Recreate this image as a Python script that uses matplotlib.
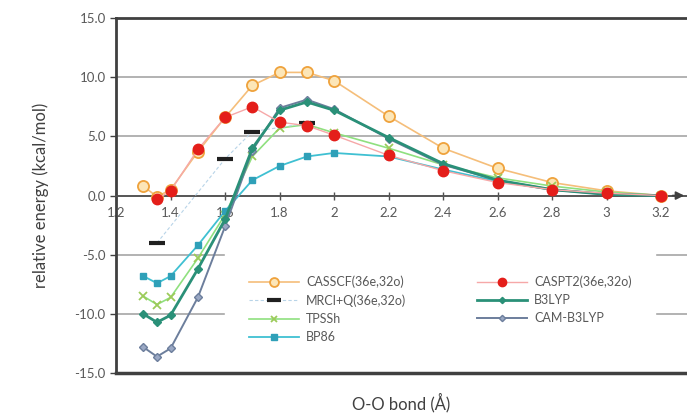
import numpy as np
import matplotlib.pyplot as plt

plt.rcParams['font.family'] = ['Lato', 'DejaVu Sans']

# O-O bond length (Å)
x = [1.3, 1.35, 1.4, 1.5, 1.6, 1.7, 1.8, 1.9, 2.0, 2.2, 2.4, 2.6, 2.8, 3.0, 3.2]
x_pt2 = [1.35, 1.4, 1.5, 1.6, 1.7, 1.8, 1.9, 2.0, 2.2, 2.4, 2.6, 2.8, 3.0, 3.2]
x_mrci = [1.35, 1.6, 1.7, 1.9]

# relative energies (kcal/mol)
casscf = [0.8, -0.1, 0.5, 3.7, 6.6, 9.3, 10.4, 10.4, 9.7, 6.7, 4.0, 2.3, 1.1, 0.4, 0.0]
caspt2 = [-0.3, 0.4, 3.9, 6.6, 7.5, 6.2, 5.9, 5.1, 3.4, 2.1, 1.1, 0.5, 0.2, 0.0]
mrci = [-4.0, 3.1, 5.4, 6.1]
b3lyp = [-10.0, -10.7, -10.1, -6.2, -2.0, 4.0, 7.2, 7.9, 7.2, 4.9, 2.7, 1.3, 0.5, 0.1, 0.0]
tpssh = [-8.5, -9.2, -8.6, -5.3, -1.6, 3.3, 5.7, 6.0, 5.3, 4.0, 2.6, 1.5, 0.8, 0.3, 0.0]
cam = [-12.8, -13.6, -12.9, -8.6, -2.6, 3.8, 7.4, 8.1, 7.3, 4.8, 2.6, 1.3, 0.5, 0.1, 0.0]
bp86 = [-6.8, -7.4, -6.8, -4.2, -1.3, 1.3, 2.5, 3.3, 3.6, 3.3, 2.2, 1.2, 0.5, 0.15, 0.0]

xticks = [1.2, 1.4, 1.6, 1.8, 2.0, 2.2, 2.4, 2.6, 2.8, 3.0, 3.2]
yticks = [-15, -10, -5, 0, 5, 10, 15]

fig = plt.figure(figsize=(6.87, 4.17), dpi=100)
ax = fig.add_axes([0.169, 0.105, 0.831, 0.852])

grey = '#595959'
ax.plot(x, casscf, color='#F5BE7A', lw=1.2, marker='o', ms=8, mfc='#FCE6B8',
        mec='#EFA23C', mew=1.3, label='CASSCF(36e,32o)', zorder=3)
ax.plot(x_mrci, mrci, color='#B8D4E8', lw=0.8, ls=(0, (3, 2)), marker='_', ms=12,
        mew=3, mec='#202020', label='MRCI+Q(36e,32o)', zorder=4)
ax.plot(x, tpssh, color='#8FE07F', lw=1.2, marker='x', ms=6, mec='#9CCB5A',
        mew=1.3, label='TPSSh', zorder=3)
ax.plot(x, bp86, color='#3FC0D2', lw=1.3, marker='s', ms=5, mfc='#2FA0B8',
        mec='#2FA0B8', label='BP86', zorder=3)
ax.plot(x_pt2, caspt2, color='#F6A8A8', lw=1.0, marker='o', ms=7.5, mfc='#E41E1A',
        mec='#E41E1A', label='CASPT2(36e,32o)', zorder=5)
ax.plot(x, b3lyp, color='#2A9078', lw=2.0, marker='D', ms=4, mfc='#2A9078',
        mec='#2A9078', label='B3LYP', zorder=4)
ax.plot(x, cam, color='#6C7E9C', lw=1.4, marker='D', ms=4, mfc='#9AA8C4',
        mec='#6C7E9C', label='CAM-B3LYP', zorder=3)

ax.set_xlim(1.2, 3.295)
ax.set_ylim(-15, 15)
ax.set_yticks(yticks)
ax.set_yticklabels(['%.1f' % v for v in yticks])
ax.set_xticks(xticks)
ax.set_xticklabels(['%g' % v for v in xticks])

# frame
for s in ['left', 'top']:
    ax.spines[s].set_color('#404040')
    ax.spines[s].set_linewidth(2)
ax.spines['right'].set_visible(False)
ax.spines['bottom'].set_position(('data', 0))
ax.spines['bottom'].set_color('#505050')
ax.spines['bottom'].set_linewidth(1.3)
ax.axhline(-15, color='#404040', lw=2.5, clip_on=False, zorder=6)
ax.annotate('', xy=(1.0, 0), xycoords=('axes fraction', 'data'),
            xytext=(0.97, 0), textcoords=('axes fraction', 'data'),
            arrowprops=dict(arrowstyle='-|>', color='#404040', lw=1.3,
                            mutation_scale=12))

ax.yaxis.grid(True, color='#A6A6A6', lw=1.2)
ax.set_axisbelow(True)
ax.tick_params(axis='y', colors='#404040', labelcolor=grey, labelsize=9.5,
               length=4, width=1, direction='out')
ax.tick_params(axis='x', colors='#505050', labelcolor=grey, labelsize=9.5,
               length=6, width=1, direction='inout', pad=5)

ax.set_ylabel('relative energy (kcal/mol)', fontsize=12, color='#404040',
              labelpad=18)
ax.set_xlabel('O-O bond (Å)', fontsize=12, color='#404040')
ax.xaxis.set_label_coords(0.5, -0.055)

leg = ax.legend(ncol=2, loc='lower left', bbox_to_anchor=(0.18, 0.0),
                frameon=True, fontsize=9, handlelength=4.0, markerscale=0.8,
                columnspacing=5.6, labelspacing=0.5, borderpad=1.9,
                handletextpad=0.6)
leg.get_frame().set_edgecolor('white')
leg.get_frame().set_facecolor('white')
leg.get_frame().set_alpha(1)
leg.get_frame().set_boxstyle('square', pad=0)
for t in leg.get_texts():
    t.set_color(grey)

fig.savefig('out.png', dpi=100)
